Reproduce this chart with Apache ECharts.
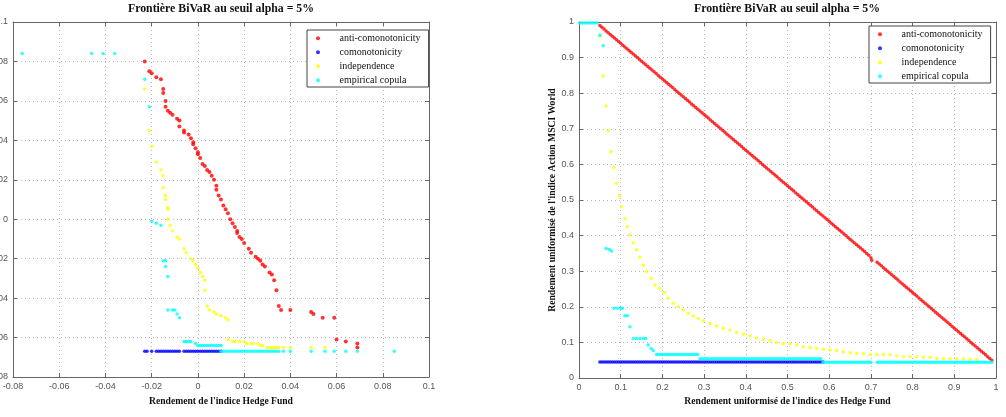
<!DOCTYPE html>
<html>
<head>
<meta charset="utf-8">
<title>Frontière BiVaR</title>
<script src="https://cdn.jsdelivr.net/npm/echarts@6/dist/echarts.min.js"></script>
<style>
    html, body { margin: 0; padding: 0; background: #fff; }
</style>
</head>
<body>
<div style="width:1006px;height:417px;" id="bivar"></div>
<script>
// series names (same for both panels)
const seriesNames = ['anti-comonotonicity', 'comonotonicity', 'independence', 'empirical copula'];
const seriesColors = ['#ff0000', '#0000ff', '#ffff00', '#00ffff'];

// left panel: returns (hedge fund, MSCI World)
const leftAnti = [
    [-0.023, 0.080], [-0.021, 0.075], [-0.020, 0.074], [-0.018, 0.072], [-0.016, 0.071], [-0.015, 0.066],
    [-0.015, 0.064], [-0.014, 0.060], [-0.014, 0.057], [-0.013, 0.055], [-0.012, 0.054], [-0.011, 0.053],
    [-0.009, 0.051], [-0.008, 0.050], [-0.008, 0.047], [-0.006, 0.045], [-0.006, 0.044], [-0.004, 0.043],
    [-0.003, 0.041], [-0.002, 0.039], [-0.002, 0.038], [-0.001, 0.036], [0.000, 0.034], [0.000, 0.033],
    [0.001, 0.031], [0.002, 0.028], [0.003, 0.027], [0.004, 0.025], [0.005, 0.024], [0.006, 0.022],
    [0.007, 0.020], [0.008, 0.017], [0.008, 0.015], [0.009, 0.012], [0.010, 0.010], [0.011, 0.007],
    [0.012, 0.005], [0.013, 0.003], [0.014, 0.000], [0.015, -0.002], [0.016, -0.004], [0.017, -0.006],
    [0.017, -0.007], [0.018, -0.009], [0.019, -0.010], [0.020, -0.012], [0.022, -0.015], [0.023, -0.017],
    [0.025, -0.019], [0.026, -0.020], [0.027, -0.021], [0.028, -0.023], [0.029, -0.024], [0.031, -0.027],
    [0.032, -0.028], [0.033, -0.031], [0.034, -0.036], [0.035, -0.044], [0.036, -0.046], [0.040, -0.046],
    [0.049, -0.047], [0.050, -0.048], [0.054, -0.050], [0.059, -0.050], [0.060, -0.061], [0.064, -0.062],
    [0.069, -0.063], [0.069, -0.065]
];
const leftComo = [
    [-0.023, -0.067], [-0.022, -0.067], [-0.020, -0.067], [-0.018, -0.067], [-0.017, -0.067], [-0.016, -0.067],
    [-0.015, -0.067], [-0.014, -0.067], [-0.013, -0.067], [-0.012, -0.067], [-0.011, -0.067], [-0.010, -0.067],
    [-0.009, -0.067], [-0.008, -0.067], [-0.006, -0.067], [-0.005, -0.067], [-0.004, -0.067], [-0.003, -0.067],
    [-0.002, -0.067], [-0.001, -0.067], [0.000, -0.067], [0.001, -0.067], [0.002, -0.067], [0.003, -0.067],
    [0.004, -0.067], [0.005, -0.067], [0.006, -0.067], [0.007, -0.067], [0.008, -0.067], [0.009, -0.067],
    [0.010, -0.067]
];
const leftIndep = [
    [-0.023, 0.066], [-0.021, 0.045], [-0.020, 0.037], [-0.018, 0.029], [-0.016, 0.025], [-0.015, 0.022],
    [-0.015, 0.016], [-0.014, 0.012], [-0.014, 0.010], [-0.013, 0.006], [-0.013, 0.005], [-0.013, 0.000],
    [-0.012, -0.003], [-0.011, -0.006], [-0.009, -0.009], [-0.008, -0.010], [-0.006, -0.015], [-0.005, -0.017],
    [-0.003, -0.020], [-0.002, -0.021], [-0.001, -0.023], [0.000, -0.025], [0.001, -0.027], [0.002, -0.029],
    [0.003, -0.031], [0.003, -0.036], [0.004, -0.044], [0.005, -0.046], [0.007, -0.047], [0.008, -0.048],
    [0.010, -0.049], [0.012, -0.050], [0.013, -0.051], [0.013, -0.061], [0.015, -0.062], [0.016, -0.062],
    [0.018, -0.062], [0.020, -0.062], [0.021, -0.063], [0.023, -0.063], [0.024, -0.063], [0.026, -0.063],
    [0.027, -0.064], [0.028, -0.064], [0.030, -0.065], [0.031, -0.065], [0.032, -0.065], [0.033, -0.065],
    [0.034, -0.065], [0.035, -0.065], [0.037, -0.065], [0.040, -0.065], [0.049, -0.065], [0.055, -0.065]
];
const leftEmp = [
    [-0.076, 0.084], [-0.046, 0.084], [-0.041, 0.084], [-0.036, 0.084], [-0.023, 0.071], [-0.021, 0.057],
    [-0.020, -0.001], [-0.018, -0.002], [-0.016, -0.003], [-0.015, -0.021], [-0.014, -0.021], [-0.014, -0.024],
    [-0.013, -0.029], [-0.013, -0.046], [-0.011, -0.046], [-0.010, -0.046], [-0.009, -0.048], [-0.008, -0.050],
    [-0.006, -0.062], [-0.005, -0.062], [-0.004, -0.062], [-0.003, -0.062], [-0.001, -0.063], [0.000, -0.064],
    [0.001, -0.064], [0.002, -0.064], [0.003, -0.064], [0.004, -0.064], [0.005, -0.064], [0.006, -0.064],
    [0.007, -0.064], [0.008, -0.064], [0.009, -0.064], [0.010, -0.064], [0.010, -0.067], [0.011, -0.067],
    [0.012, -0.067], [0.013, -0.067], [0.014, -0.067], [0.015, -0.067], [0.016, -0.067], [0.017, -0.067],
    [0.018, -0.067], [0.019, -0.067], [0.020, -0.067], [0.021, -0.067], [0.022, -0.067], [0.023, -0.067],
    [0.024, -0.067], [0.025, -0.067], [0.026, -0.067], [0.027, -0.067], [0.028, -0.067], [0.029, -0.067],
    [0.030, -0.067], [0.031, -0.067], [0.032, -0.067], [0.033, -0.067], [0.034, -0.067], [0.035, -0.067],
    [0.037, -0.067], [0.040, -0.067], [0.049, -0.067], [0.055, -0.067], [0.059, -0.067], [0.064, -0.067],
    [0.069, -0.067], [0.085, -0.067]
];

// right panel: uniformised returns
const rightAnti = [
    [0.050, 0.990], [0.055, 0.985], [0.060, 0.980], [0.065, 0.975], [0.070, 0.970], [0.075, 0.965], [0.080, 0.960], [0.085, 0.955], [0.090, 0.950], [0.095, 0.945],
    [0.100, 0.940], [0.105, 0.935], [0.110, 0.930], [0.115, 0.925], [0.120, 0.920], [0.125, 0.915], [0.130, 0.910], [0.135, 0.905], [0.140, 0.900], [0.145, 0.895],
    [0.150, 0.890], [0.155, 0.885], [0.160, 0.880], [0.165, 0.875], [0.170, 0.870], [0.175, 0.865], [0.180, 0.860], [0.185, 0.855], [0.190, 0.850], [0.195, 0.845],
    [0.200, 0.840], [0.205, 0.835], [0.210, 0.830], [0.215, 0.825], [0.220, 0.820], [0.225, 0.815], [0.230, 0.810], [0.235, 0.805], [0.240, 0.800], [0.245, 0.795],
    [0.250, 0.790], [0.255, 0.785], [0.260, 0.780], [0.265, 0.775], [0.270, 0.770], [0.275, 0.765], [0.280, 0.760], [0.285, 0.755], [0.290, 0.750], [0.295, 0.745],
    [0.300, 0.740], [0.305, 0.735], [0.310, 0.730], [0.315, 0.725], [0.320, 0.720], [0.325, 0.715], [0.330, 0.710], [0.335, 0.705], [0.340, 0.700], [0.345, 0.695],
    [0.350, 0.690], [0.355, 0.685], [0.360, 0.680], [0.365, 0.675], [0.370, 0.670], [0.375, 0.665], [0.380, 0.660], [0.385, 0.655], [0.390, 0.650], [0.395, 0.645],
    [0.400, 0.640], [0.405, 0.635], [0.410, 0.630], [0.415, 0.625], [0.420, 0.620], [0.425, 0.615], [0.430, 0.610], [0.435, 0.605], [0.440, 0.600], [0.445, 0.595],
    [0.450, 0.590], [0.455, 0.585], [0.460, 0.580], [0.465, 0.575], [0.470, 0.570], [0.475, 0.565], [0.480, 0.560], [0.485, 0.555], [0.490, 0.550], [0.495, 0.545],
    [0.500, 0.540], [0.505, 0.535], [0.510, 0.530], [0.515, 0.525], [0.520, 0.520], [0.525, 0.515], [0.530, 0.510], [0.535, 0.505], [0.540, 0.500], [0.545, 0.495],
    [0.550, 0.490], [0.555, 0.485], [0.560, 0.480], [0.565, 0.475], [0.570, 0.470], [0.575, 0.465], [0.580, 0.460], [0.585, 0.455], [0.590, 0.450], [0.595, 0.445],
    [0.600, 0.440], [0.605, 0.435], [0.610, 0.430], [0.615, 0.425], [0.620, 0.420], [0.625, 0.415], [0.630, 0.410], [0.635, 0.405], [0.640, 0.400], [0.645, 0.395],
    [0.650, 0.390], [0.655, 0.385], [0.660, 0.380], [0.665, 0.375], [0.670, 0.370], [0.675, 0.365], [0.680, 0.360], [0.685, 0.355], [0.690, 0.350], [0.695, 0.345],
    [0.700, 0.338], [0.702, 0.331], [0.715, 0.325], [0.720, 0.320], [0.725, 0.315], [0.730, 0.310], [0.735, 0.305], [0.740, 0.300], [0.745, 0.295],
    [0.750, 0.290], [0.755, 0.285], [0.760, 0.280], [0.765, 0.275], [0.770, 0.270], [0.775, 0.265], [0.780, 0.260], [0.785, 0.255], [0.790, 0.250], [0.795, 0.245],
    [0.800, 0.240], [0.805, 0.235], [0.810, 0.230], [0.815, 0.225], [0.820, 0.220], [0.825, 0.215], [0.830, 0.210], [0.835, 0.205], [0.840, 0.200], [0.845, 0.195],
    [0.850, 0.190], [0.855, 0.185], [0.860, 0.180], [0.865, 0.175], [0.870, 0.170], [0.875, 0.165], [0.880, 0.160], [0.885, 0.155], [0.890, 0.150], [0.895, 0.145],
    [0.900, 0.140], [0.905, 0.135], [0.910, 0.130], [0.915, 0.125], [0.920, 0.120], [0.925, 0.115], [0.930, 0.110], [0.935, 0.105], [0.940, 0.100], [0.945, 0.095],
    [0.950, 0.090], [0.955, 0.085], [0.960, 0.080], [0.965, 0.075], [0.970, 0.070], [0.975, 0.065], [0.980, 0.060], [0.985, 0.055], [0.990, 0.050]
];
// comonotonicity: flat row at 0.045
const rightComoLevel = 0.045;
const rightComoX = [
    0.050, 0.055, 0.060, 0.065, 0.070, 0.075, 0.080, 0.085, 0.090, 0.095, 0.100, 0.105, 0.110, 0.115, 0.120,
    0.125, 0.130, 0.135, 0.140, 0.145, 0.150, 0.155, 0.160, 0.165, 0.170, 0.175, 0.180, 0.185, 0.190, 0.195,
    0.200, 0.205, 0.210, 0.215, 0.220, 0.225, 0.230, 0.235, 0.240, 0.245, 0.250, 0.255, 0.260, 0.265, 0.270,
    0.275, 0.280, 0.285, 0.290, 0.295, 0.300, 0.305, 0.310, 0.315, 0.320, 0.325, 0.330, 0.335, 0.340, 0.345,
    0.350, 0.355, 0.360, 0.365, 0.370, 0.375, 0.380, 0.385, 0.390, 0.395, 0.400, 0.405, 0.410, 0.415, 0.420,
    0.425, 0.430, 0.435, 0.440, 0.445, 0.450, 0.455, 0.460, 0.465, 0.470, 0.475, 0.480, 0.485, 0.490, 0.495,
    0.500, 0.505, 0.510, 0.515, 0.520, 0.525, 0.530, 0.535, 0.540, 0.545, 0.550, 0.555, 0.560, 0.565, 0.570,
    0.575, 0.580, 0.585
];
const rightIndep = [
    [0.050, 0.96], [0.058, 0.848], [0.065, 0.764], [0.070, 0.694], [0.077, 0.636], [0.083, 0.591],
    [0.090, 0.547], [0.097, 0.512], [0.102, 0.481], [0.110, 0.447], [0.116, 0.425], [0.122, 0.402],
    [0.130, 0.380], [0.138, 0.360], [0.146, 0.339], [0.154, 0.317], [0.162, 0.299], [0.173, 0.280],
    [0.182, 0.261], [0.193, 0.252], [0.204, 0.240], [0.214, 0.224], [0.226, 0.210], [0.238, 0.200],
    [0.250, 0.191], [0.262, 0.182], [0.274, 0.174], [0.286, 0.167], [0.298, 0.161], [0.314, 0.153],
    [0.330, 0.146], [0.346, 0.140], [0.362, 0.135], [0.378, 0.128], [0.394, 0.123], [0.410, 0.118],
    [0.426, 0.113], [0.442, 0.109], [0.458, 0.105], [0.474, 0.100], [0.490, 0.097], [0.506, 0.096],
    [0.522, 0.093], [0.538, 0.088], [0.554, 0.086], [0.570, 0.083], [0.586, 0.081], [0.602, 0.079],
    [0.618, 0.077], [0.634, 0.074], [0.650, 0.071], [0.666, 0.069], [0.682, 0.068], [0.698, 0.066],
    [0.714, 0.066], [0.730, 0.066], [0.746, 0.065], [0.762, 0.062], [0.778, 0.060], [0.794, 0.060],
    [0.810, 0.060], [0.826, 0.058], [0.842, 0.058], [0.858, 0.055], [0.874, 0.054], [0.890, 0.054],
    [0.906, 0.054], [0.922, 0.054], [0.938, 0.053], [0.954, 0.053]
];
// empirical copula: isolated steps, then three flat rows
const rightEmpSteps = [
    [0.002, 0.997], [0.008, 0.997], [0.014, 0.997], [0.020, 0.997], [0.026, 0.997], [0.032, 0.997],
    [0.038, 0.997], [0.044, 0.997], [0.050, 0.963], [0.058, 0.933], [0.065, 0.364], [0.073, 0.361],
    [0.078, 0.357], [0.084, 0.196], [0.092, 0.196], [0.100, 0.196], [0.104, 0.196], [0.110, 0.175],
    [0.116, 0.175], [0.122, 0.144], [0.130, 0.111], [0.138, 0.111], [0.146, 0.111], [0.154, 0.111],
    [0.160, 0.111], [0.166, 0.093], [0.173, 0.083], [0.178, 0.077], [0.186, 0.066]
];
const rightEmpLevels = [0.066, 0.054, 0.044];
const rightEmpRowX = [
    [0.190, 0.195, 0.200, 0.205, 0.210, 0.215, 0.220, 0.225, 0.230, 0.235, 0.240, 0.245, 0.250, 0.255,
        0.260, 0.265, 0.270, 0.275, 0.280, 0.285],
    [0.290, 0.295, 0.300, 0.305, 0.310, 0.315, 0.320, 0.325, 0.330, 0.335, 0.340, 0.345, 0.350, 0.355,
        0.360, 0.365, 0.370, 0.375, 0.380, 0.385, 0.390, 0.395, 0.400, 0.405, 0.410, 0.415, 0.420, 0.425,
        0.430, 0.435, 0.440, 0.445, 0.450, 0.455, 0.460, 0.465, 0.470, 0.475, 0.480, 0.485, 0.490, 0.495,
        0.500, 0.505, 0.510, 0.515, 0.520, 0.525, 0.530, 0.535, 0.540, 0.545, 0.550, 0.555, 0.560, 0.565,
        0.570, 0.575, 0.580],
    [0.585, 0.590, 0.595, 0.600, 0.605, 0.610, 0.615, 0.620, 0.625, 0.630, 0.635, 0.640, 0.645, 0.650,
        0.655, 0.660, 0.665, 0.670, 0.675, 0.680, 0.685, 0.690, 0.695, 0.700, 0.715, 0.720, 0.725, 0.730,
        0.735, 0.740, 0.745, 0.750, 0.755, 0.760, 0.765, 0.770, 0.775, 0.780, 0.785, 0.790, 0.795, 0.800,
        0.805, 0.810, 0.815, 0.820, 0.825, 0.830, 0.835, 0.840, 0.845, 0.850, 0.855, 0.860, 0.865, 0.870,
        0.875, 0.880, 0.885, 0.890, 0.895, 0.900, 0.905, 0.910, 0.915, 0.920, 0.925, 0.930, 0.935, 0.940,
        0.945, 0.950, 0.955, 0.960, 0.965, 0.970, 0.975, 0.980, 0.985, 0.990]
];

const titleText = 'Frontière BiVaR au seuil alpha = 5%';
const leftXName = "Rendement de l'indice Hedge Fund";
const rightXName = "Rendement uniformisé de l'indice des Hedge Fund";
const rightYName = "Rendement uniformisé de l'indice Action MSCI World";

const serif = 'Liberation Serif, Times New Roman, serif';
const sans = 'Liberation Sans, Arial, sans-serif';

const rightComo = rightComoX.map(x => [x, rightComoLevel]);
let rightEmp = rightEmpSteps.slice();
rightEmpRowX.forEach(function (row, i) {
    row.forEach(x => rightEmp.push([x, rightEmpLevels[i]]));
});

function mainAxis(grid, min, max, interval, name, nameGap) {
    return {
        type: 'value',
        gridIndex: grid,
        min: min,
        max: max,
        interval: interval,
        name: name,
        nameLocation: 'middle',
        nameGap: nameGap,
        nameTextStyle: {fontFamily: serif, fontWeight: 'bold', fontSize: 9.6, color: '#111'},
        axisLine: {show: true, onZero: false, lineStyle: {color: '#666', width: 1}},
        axisTick: {show: true, inside: true, length: 4, lineStyle: {color: '#666'}},
        axisLabel: {fontFamily: sans, fontSize: 9, color: '#555', margin: 5},
        splitLine: {show: true, lineStyle: {type: [1, 3], color: '#b8b8b8', width: 1}}
    };
}

function mirrorAxis(grid, min, max, interval, position) {
    return {
        type: 'value',
        gridIndex: grid,
        position: position,
        min: min,
        max: max,
        interval: interval,
        axisLine: {show: true, onZero: false, lineStyle: {color: '#666', width: 1}},
        axisTick: {show: true, inside: true, length: 4, lineStyle: {color: '#666'}},
        axisLabel: {show: false},
        splitLine: {show: false}
    };
}

function legendAt(left, top) {
    return {
        orient: 'vertical',
        left: left,
        top: top,
        icon: 'circle',
        itemWidth: 17,
        itemHeight: 4,
        itemGap: 0.5,
        padding: [1.5, 8, 0, 9],
        backgroundColor: '#fff',
        borderColor: '#444',
        borderWidth: 1,
        textStyle: {fontFamily: serif, fontSize: 10, color: '#111', lineHeight: 13.5, padding: [0, 0, 0, 8]},
        data: seriesNames
    };
}

function scatter(name, color, data, xIdx, yIdx, size) {
    return {
        name: name,
        type: 'scatter',
        xAxisIndex: xIdx,
        yAxisIndex: yIdx,
        symbol: 'circle',
        symbolSize: size,
        itemStyle: {color: color},
        data: data,
        silent: true
    };
}

let chart = echarts.init(document.getElementById('bivar'));

const option = {
    backgroundColor: '#fff',
    animation: false,
    title: [
        {text: titleText, left: 221, top: 3, textAlign: 'center', padding: 0,
            textStyle: {fontFamily: serif, fontWeight: 'bold', fontSize: 11.8, color: '#111'}},
        {text: titleText, left: 787, top: 3, textAlign: 'center', padding: 0,
            textStyle: {fontFamily: serif, fontWeight: 'bold', fontSize: 11.8, color: '#111'}}
    ],
    legend: [legendAt(307, 30), legendAt(869, 26)],
    grid: [
        {left: 13, right: 577, top: 22, bottom: 40, outerBoundsMode: 'none', containLabel: false},
        {left: 579, right: 10, top: 22, bottom: 39, outerBoundsMode: 'none', containLabel: false}
    ],
    xAxis: [
        mainAxis(0, -0.08, 0.1, 0.02, leftXName, 20),
        mirrorAxis(0, -0.08, 0.1, 0.02, 'top'),
        mainAxis(1, 0, 1, 0.1, rightXName, 14),
        mirrorAxis(1, 0, 1, 0.1, 'top')
    ],
    yAxis: [
        mainAxis(0, -0.08, 0.1, 0.02, '', 0),
        mirrorAxis(0, -0.08, 0.1, 0.02, 'right'),
        mainAxis(1, 0, 1, 0.1, rightYName, 11),
        mirrorAxis(1, 0, 1, 0.1, 'right')
    ],
    series: [
        scatter(seriesNames[0], seriesColors[0], leftAnti, 0, 0, 4),
        scatter(seriesNames[1], seriesColors[1], leftComo, 0, 0, 3.5),
        scatter(seriesNames[2], seriesColors[2], leftIndep, 0, 0, 3.5),
        scatter(seriesNames[3], seriesColors[3], leftEmp, 0, 0, 3.5),
        scatter(seriesNames[0], seriesColors[0], rightAnti, 2, 2, 3.5),
        scatter(seriesNames[1], seriesColors[1], rightComo, 2, 2, 3.5),
        scatter(seriesNames[2], seriesColors[2], rightIndep, 2, 2, 3.5),
        scatter(seriesNames[3], seriesColors[3], rightEmp, 2, 2, 3.5)
    ]
};

chart.setOption(option);

window.addEventListener('resize', function () {
    chart.resize();
});
</script>
</body>
</html>
